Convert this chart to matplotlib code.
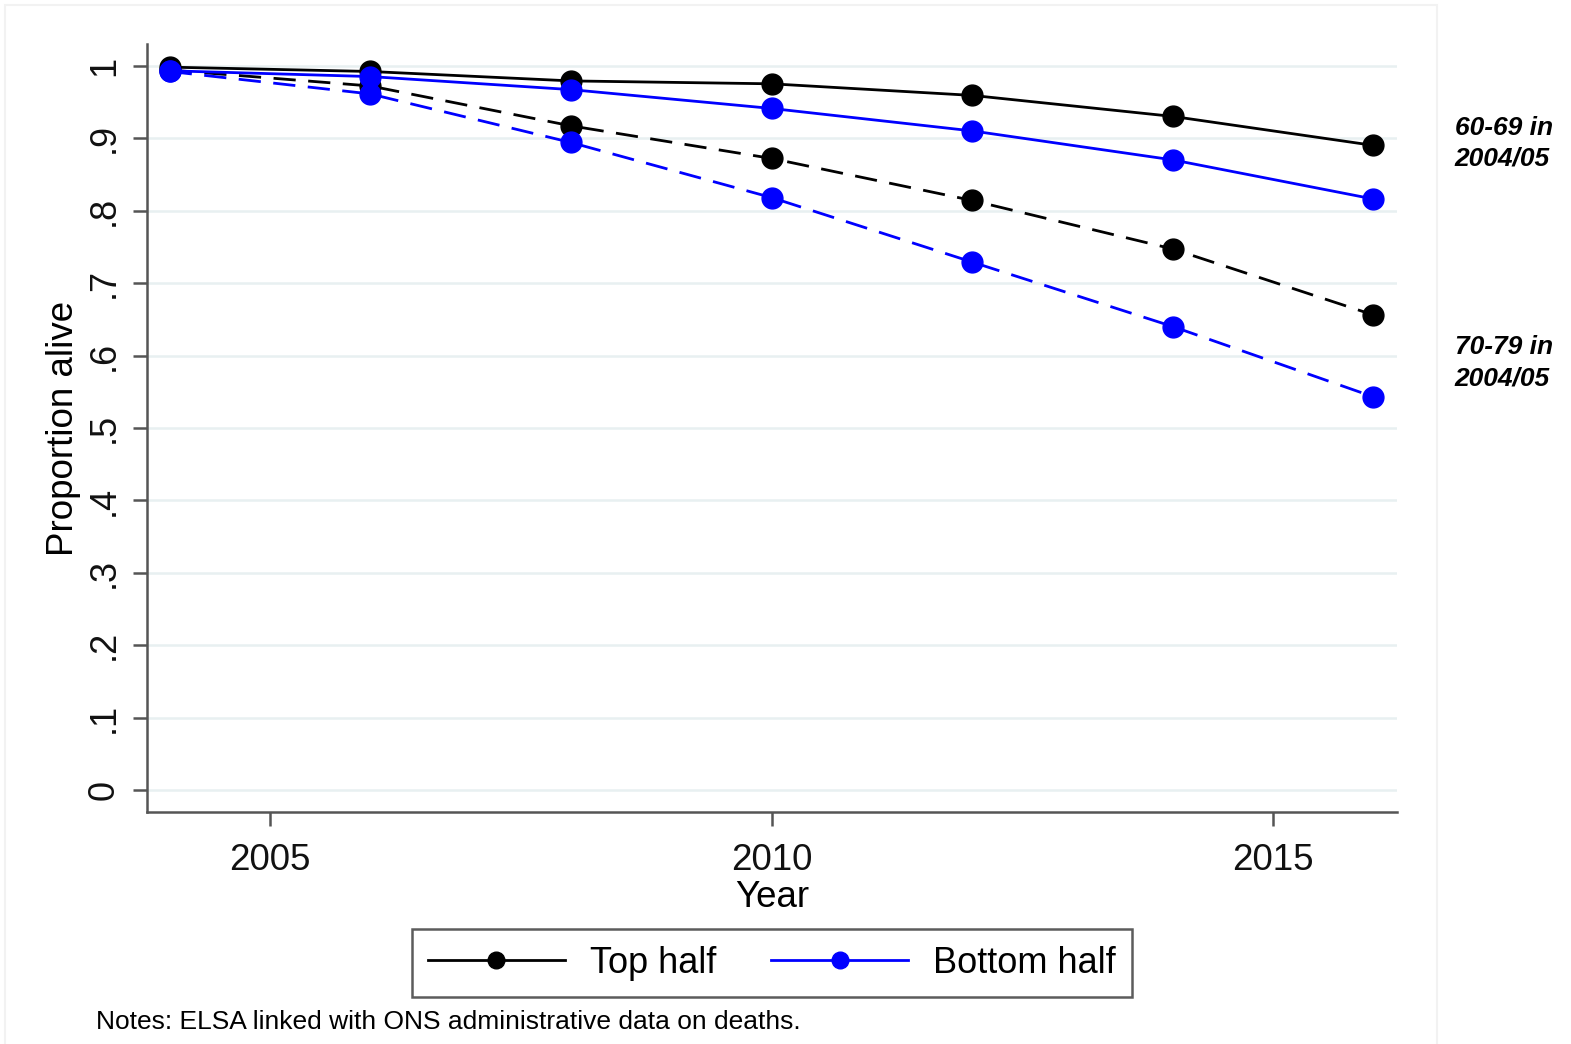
import matplotlib.pyplot as plt
from matplotlib.lines import Line2D
from matplotlib.patches import Rectangle
import matplotlib.transforms as mtransforms

plt.rcParams['font.family'] = ['Liberation Sans', 'DejaVu Sans']

years = [2004, 2006, 2008, 2010, 2012, 2014, 2016]

# 60-69 in 2004/05
top_6069 = [0.998, 0.992, 0.979, 0.975, 0.959, 0.930, 0.890]
bottom_6069 = [0.993, 0.985, 0.967, 0.941, 0.910, 0.870, 0.816]

# 70-79 in 2004/05
top_7079 = [0.994, 0.972, 0.917, 0.872, 0.814, 0.747, 0.656]
bottom_7079 = [0.992, 0.961, 0.894, 0.818, 0.729, 0.640, 0.543]

y_ticks = [0, .1, .2, .3, .4, .5, .6, .7, .8, .9, 1]
y_tick_labels = ['0', '.1', '.2', '.3', '.4', '.5', '.6', '.7', '.8', '.9', '1']
x_ticks = [2005, 2010, 2015]

group_labels = ['60-69 in\n2004/05', '70-79 in\n2004/05']
group_label_y = [0.893, 0.590]

fig = plt.figure(figsize=(15.71, 10.44), dpi=100)
ax = fig.add_axes([0.0936, 0.2222, 0.7957, 0.7357])

fig.patches.append(Rectangle((0.003, -0.01), 0.912, 1.005, transform=fig.transFigure,
                             fill=False, edgecolor='#f2f2f2', linewidth=1.5))

for yt in y_ticks:
    ax.axhline(yt, color='#e8f0f1', linewidth=1.8, zorder=0)

lw = 2.0
ms = 15
dash = (0, (8, 4.5))
ax.plot(years, top_6069, color='black', lw=lw, marker='o', ms=ms, zorder=3)
ax.plot(years, top_7079, color='black', lw=lw, ls=dash, marker='o', ms=ms, zorder=3)
ax.plot(years, bottom_6069, color='#0000ff', lw=lw, marker='o', ms=ms, zorder=4)
ax.plot(years, bottom_7079, color='#0000ff', lw=lw, ls=dash, marker='o', ms=ms, zorder=4)

ax.set_xlim(2003.774, 2016.236)
ax.set_ylim(-0.03, 1.03)

ax.set_xticks(x_ticks)
ax.set_xticklabels([str(x) for x in x_ticks], fontsize=26.5)
ax.set_yticks(y_ticks)
ax.set_yticklabels(y_tick_labels, fontsize=26, rotation=90, va='center')

for s in ['top', 'right']:
    ax.spines[s].set_visible(False)
for s in ['left', 'bottom']:
    ax.spines[s].set_color('#555555')
    ax.spines[s].set_linewidth(1.8)
ax.tick_params(axis='both', length=10, width=1.8, color='#555555', labelcolor='#111111')
ax.tick_params(axis='x', pad=12)
ax.tick_params(axis='y', pad=8)

ax.set_xlabel('Year', fontsize=26.5, labelpad=2)
ax.set_ylabel('Proportion alive', fontsize=26.5, labelpad=4)

trans = mtransforms.blended_transform_factory(ax.transAxes, ax.transData)
for lab, yv in zip(group_labels, group_label_y):
    ax.text(1.046, yv, lab, transform=trans, fontsize=19, fontweight='bold',
            fontstyle='italic', ha='left', va='center', linespacing=1.38)

handles = [
    Line2D([], [], color='black', lw=lw, marker='o', ms=12),
    Line2D([], [], color='#0000ff', lw=lw, marker='o', ms=12),
]
leg = fig.legend(handles, ['Top half', 'Bottom half'], loc='center',
                 bbox_to_anchor=(772 / 1571, 0.0775), ncol=2, fontsize=26,
                 frameon=True, fancybox=False, edgecolor='#333333',
                 handlelength=3.8, columnspacing=1.5, handletextpad=0.7,
                 borderpad=0.45, borderaxespad=0.0)
leg.get_frame().set_linewidth(1.8)

fig.text(96 / 1571, 1 - 1022 / 1044, 'Notes: ELSA linked with ONS administrative data on deaths.',
         fontsize=19, ha='left', va='center')

fig.savefig('out.png', dpi=100)
